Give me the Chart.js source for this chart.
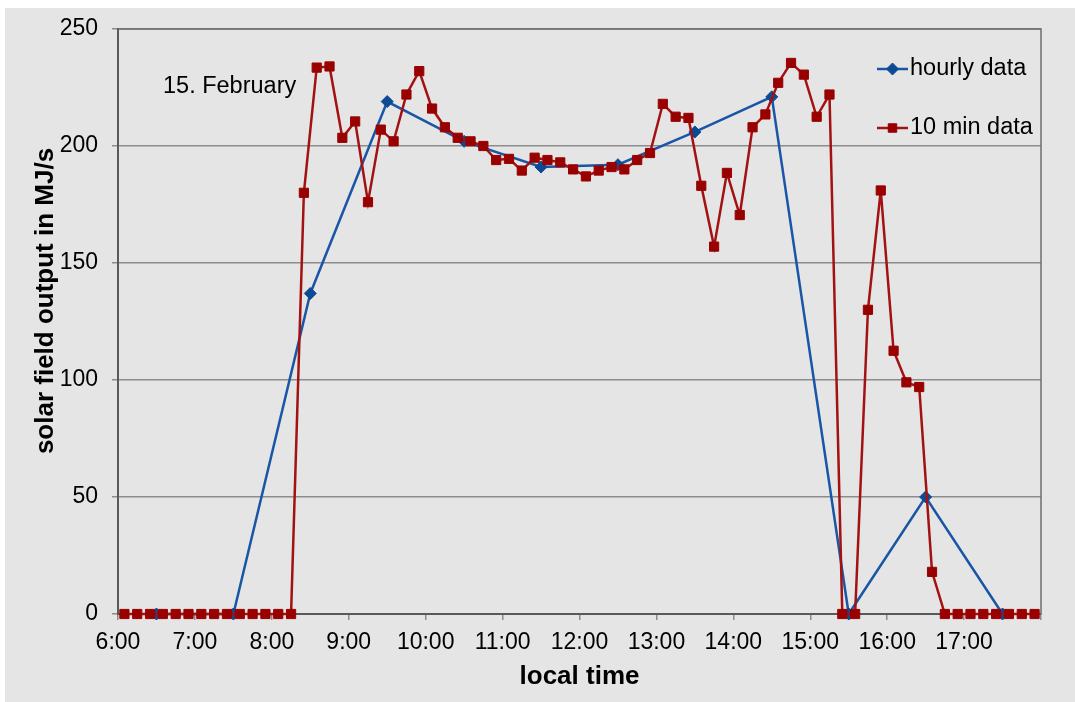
<!DOCTYPE html>
<html>
<head>
<meta charset="utf-8">
<script src="https://cdn.jsdelivr.net/npm/chart.js@4.4.0/dist/chart.umd.min.js"></script>
<style>
  html, body { margin: 0; padding: 0; background: #ffffff; }
  .chart-box { position: absolute; left: 5px; top: 8px; width: 1070px; height: 694px; background: #e5e5e5; }
</style>
</head>
<body>
<div class="chart-box"><canvas id="solarChart"></canvas></div>
<script>
// hourly averages, plotted at mid-hour
const hourlyTimes = ['6:30', '7:30', '8:30', '9:30', '10:30', '11:30', '12:30', '13:30', '14:30', '15:30', '16:30', '17:30'];
const hourlyValues = [0, 0, 137, 219, 202, 191, 192, 206, 221, 0, 50, 0];

// 10 minute averages, plotted at mid-interval
const tenMinTimes = [
  '6:05', '6:15', '6:25', '6:35', '6:45', '6:55',
  '7:05', '7:15', '7:25', '7:35', '7:45', '7:55',
  '8:05', '8:15', '8:25', '8:35', '8:45', '8:55',
  '9:05', '9:15', '9:25', '9:35', '9:45', '9:55',
  '10:05', '10:15', '10:25', '10:35', '10:45', '10:55',
  '11:05', '11:15', '11:25', '11:35', '11:45', '11:55',
  '12:05', '12:15', '12:25', '12:35', '12:45', '12:55',
  '13:05', '13:15', '13:25', '13:35', '13:45', '13:55',
  '14:05', '14:15', '14:25', '14:35', '14:45', '14:55',
  '15:05', '15:15', '15:25', '15:35', '15:45', '15:55',
  '16:05', '16:15', '16:25', '16:35', '16:45', '16:55',
  '17:05', '17:15', '17:25', '17:35', '17:45', '17:55'
];
const tenMinValues = [
  0, 0, 0, 0, 0, 0,
  0, 0, 0, 0, 0, 0,
  0, 0, 180, 233.5, 234, 203.5,
  210.5, 176, 207, 202, 222, 232,
  216, 208, 203.5, 202, 200, 194,
  194.5, 189.5, 195, 194, 193, 190,
  187, 189.5, 191, 190, 194, 197,
  218, 212.5, 212, 183, 157, 188.5,
  170.5, 208, 213.5, 227, 235.5, 230.5,
  212.5, 222, 0, 0, 130, 181,
  112.5, 99, 97, 18, 0, 0,
  0, 0, 0, 0, 0, 0
];

const hourTicks = ['6:00', '7:00', '8:00', '9:00', '10:00', '11:00', '12:00', '13:00', '14:00', '15:00', '16:00', '17:00'];
const dateLabel = '15. February';
const seriesNames = ['hourly data', '10 min data'];

const FONT = "'Liberation Sans', Arial, sans-serif";
const BLUE_LINE = '#1a56a6';
const BLUE_MARK = '#0c4a94';
const RED_LINE = '#a31212';
const RED_MARK = '#990000';

const toHours = (t) => {
  const [h, m] = t.split(':').map(Number);
  return h + m / 60;
};
const toPoints = (times, values) => times.map((t, i) => ({ x: toHours(t), y: values[i] }));

const extras = {
  id: 'extras',
  beforeDatasetsDraw(chart) {
    const { ctx, chartArea } = chart;
    ctx.save();
    ctx.strokeStyle = '#6e6e6e';
    ctx.lineWidth = 1.5;
    ctx.beginPath();
    ctx.moveTo(chartArea.left, chartArea.top);
    ctx.lineTo(chartArea.right, chartArea.top);
    ctx.lineTo(chartArea.right, chartArea.bottom);
    ctx.stroke();
    ctx.restore();
  },
  afterDraw(chart) {
    const { ctx, chartArea } = chart;
    ctx.save();
    ctx.fillStyle = '#000';
    ctx.textBaseline = 'middle';

    // date note
    ctx.font = '23.5px ' + FONT;
    ctx.textAlign = 'left';
    ctx.fillText(dateLabel, chartArea.left + 45, chartArea.top + 58);

    // legend
    const rows = [
      { y: chartArea.top + 40, line: BLUE_LINE, mark: BLUE_MARK, style: 'rectRot', r: 6 },
      { y: chartArea.top + 99, line: RED_LINE, mark: RED_MARK, style: 'rect', r: 6 }
    ];
    const x0 = chartArea.right - 164, x1 = chartArea.right - 133;
    rows.forEach((row, i) => {
      ctx.strokeStyle = row.line;
      ctx.lineWidth = 2.5;
      ctx.beginPath();
      ctx.moveTo(x0, row.y);
      ctx.lineTo(x1, row.y);
      ctx.stroke();
      ctx.fillStyle = row.mark;
      ctx.strokeStyle = row.mark;
      ctx.lineWidth = 1;
      Chart.helpers.drawPoint(ctx, { pointStyle: row.style, radius: row.r, borderWidth: 1, rotation: 0 }, (x0 + x1) / 2, row.y);
      ctx.fillStyle = '#000';
      ctx.fillText(seriesNames[i], x1 + 2, row.y);
    });

    // y axis title
    ctx.translate(41, 293);
    ctx.rotate(-Math.PI / 2);
    ctx.textAlign = 'center';
    ctx.font = 'bold 26px ' + FONT;
    ctx.fillText('solar field output in MJ/s', 0, 0);
    ctx.restore();
  }
};

new Chart(document.getElementById('solarChart'), {
  type: 'line',
  data: {
    datasets: [
      {
        label: seriesNames[0],
        data: toPoints(hourlyTimes, hourlyValues),
        borderColor: BLUE_LINE,
        borderWidth: 2.5,
        pointStyle: 'rectRot',
        pointRadius: 6,
        pointBorderWidth: 1,
        pointBackgroundColor: BLUE_MARK,
        pointBorderColor: BLUE_MARK,
        tension: 0,
        order: 2,
        clip: false
      },
      {
        label: seriesNames[1],
        data: toPoints(tenMinTimes, tenMinValues),
        borderColor: RED_LINE,
        borderWidth: 2.5,
        pointStyle: 'rect',
        pointRadius: 6.5,
        pointBorderWidth: 1,
        pointBackgroundColor: RED_MARK,
        pointBorderColor: RED_MARK,
        tension: 0,
        order: 1,
        clip: false
      }
    ]
  },
  options: {
    responsive: true,
    maintainAspectRatio: false,
    animation: false,
    layout: { padding: { left: 0, top: 21, right: 34, bottom: 0 } },
    plugins: {
      legend: { display: false },
      tooltip: { enabled: false }
    },
    scales: {
      x: {
        type: 'linear',
        min: 6,
        max: 18,
        afterFit: (s) => { s.height = 88; s.paddingLeft = 0; s.paddingRight = 0; },
        afterBuildTicks: (s) => {
          s.ticks = hourTicks.map((t) => ({ value: toHours(t) })).concat([{ value: 18 }]);
        },
        ticks: {
          autoSkip: false,
          maxRotation: 0,
          padding: 9,
          color: '#000',
          font: { family: FONT, size: 23 },
          callback: (v) => hourTicks.find((t) => toHours(t) === v) || ''
        },
        grid: { drawOnChartArea: false, drawTicks: true, tickLength: 6, color: '#8c8c8c', lineWidth: 1.5 },
        border: { color: '#595959', width: 2 },
        title: {
          display: true,
          text: 'local time',
          color: '#000',
          font: { family: FONT, size: 26, weight: 'bold' },
          padding: { top: 0, bottom: 10 }
        }
      },
      y: {
        min: 0,
        max: 250,
        afterFit: (s) => { s.width = 113; s.paddingTop = 0; s.paddingBottom = 0; },
        ticks: {
          stepSize: 50,
          padding: 14,
          color: '#000',
          font: { family: FONT, size: 23 }
        },
        grid: { color: '#8c8c8c', lineWidth: 1.5, tickLength: 6 },
        border: { color: '#595959', width: 2 }
      }
    }
  },
  plugins: [extras]
});
</script>
</body>
</html>
